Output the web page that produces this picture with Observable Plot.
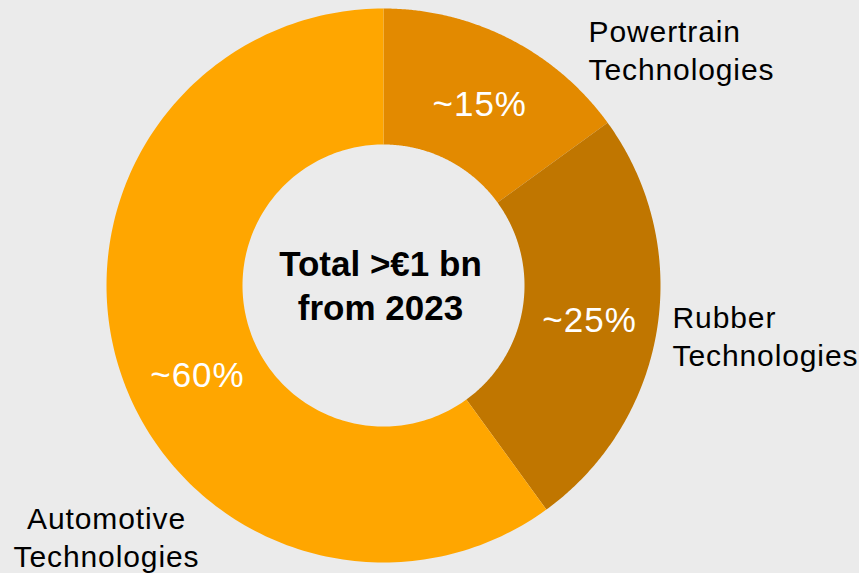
<!DOCTYPE html>
<html><head><meta charset="utf-8">
<script src="https://cdn.jsdelivr.net/npm/d3@7"></script>
<script src="https://cdn.jsdelivr.net/npm/@observablehq/plot@0.6"></script>
<style>html,body{margin:0;padding:0;background:#ebebeb;overflow:hidden}</style>
</head><body><div id="chart"></div>
<script>
// ---- data ----
const segments = ["Powertrain Technologies", "Rubber Technologies", "Automotive Technologies"];
const shares = [15, 25, 60];
const shareLabels = ["~15%", "~25%", "~60%"];
const nameLabels = ["Powertrain\nTechnologies", "Rubber\nTechnologies", "Automotive\nTechnologies"];
const centerText = "Total >€1 bn\nfrom 2023";

// ---- layout / style ----
const W = 859, H = 573, cx = 383, cy = 285, R = 277, R0 = 141;
const colors = ["#e38a00", "#c07600", "#ffa600"];
const shareLabelPos = [{a: 28, r: 205}, {a: 99.6, r: 209}, {a: 244, r: 207}];
const nameLabelPos = [
  {x: 205, y: -270, anchor: "start"},
  {x: 289, y: 16, anchor: "start"},
  {x: -277, y: 217, anchor: "middle"}
];

const arcs = d3.pie().sort(null).startAngle(0).endAngle(2 * Math.PI)(shares);
const ring = [];
arcs.forEach((p, i) => {
  const n = 180;
  for (let k = 0; k <= n; k++) {
    const a = p.startAngle + (p.endAngle - p.startAngle) * k / n;
    ring.push({seg: segments[i], x: R * Math.sin(a), y: -R * Math.cos(a)});
  }
  for (let k = n; k >= 0; k--) {
    const a = p.startAngle + (p.endAngle - p.startAngle) * k / n;
    ring.push({seg: segments[i], x: R0 * Math.sin(a), y: -R0 * Math.cos(a)});
  }
});

const shareRows = shares.map((v, i) => ({
  label: shareLabels[i],
  x: shareLabelPos[i].r * Math.sin(shareLabelPos[i].a * Math.PI / 180),
  y: -shareLabelPos[i].r * Math.cos(shareLabelPos[i].a * Math.PI / 180)
}));
const nameRows = nameLabels.map((t, i) => ({label: t, ...nameLabelPos[i]}));

const chart = Plot.plot({
  width: W, height: H, margin: 0,
  style: {background: "#ebebeb", fontFamily: "'Liberation Sans', Arial, sans-serif"},
  x: {domain: [-cx, W - cx], range: [0, W], axis: null},
  y: {domain: [-cy, H - cy], range: [0, H], axis: null},
  color: {domain: segments, range: colors},
  marks: [
    Plot.line(ring, {x: "x", y: "y", z: "seg", fill: "seg", stroke: "none", curve: "linear"}),
    Plot.text(shareRows, {x: "x", y: "y", text: "label", fill: "white", fontSize: 35}),
    Plot.text(nameRows.filter(d => d.anchor === "start"), {x: "x", y: "y", text: "label", fill: "black", fontSize: 30, textAnchor: "start", lineAnchor: "top", lineHeight: 1.26}),
    Plot.text(nameRows.filter(d => d.anchor === "middle"), {x: "x", y: "y", text: "label", fill: "black", fontSize: 30, textAnchor: "middle", lineAnchor: "top", lineHeight: 1.26}),
    Plot.text([centerText], {x: -3, y: -40, text: d => d, fill: "black", fontSize: 35, fontWeight: "bold", lineAnchor: "top", lineHeight: 1.24})
  ]
});
const textGroups = chart.querySelectorAll('g[aria-label="text"]');
if (textGroups[0]) textGroups[0].style.letterSpacing = "1px";
if (textGroups[1]) textGroups[1].style.letterSpacing = "0.9px";
if (textGroups[2]) textGroups[2].style.letterSpacing = "0.9px";
document.getElementById("chart").appendChild(chart);
</script>
</body></html>
